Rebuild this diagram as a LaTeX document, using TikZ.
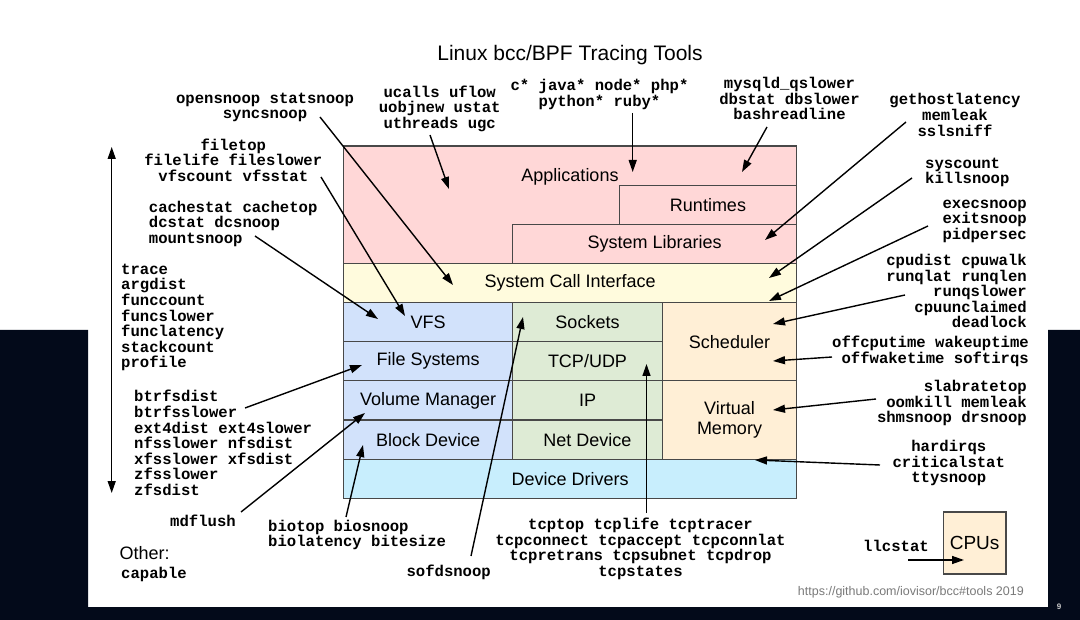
\documentclass[tikz,border=0pt]{standalone}
\usepackage{fontspec}
\setmainfont{Liberation Sans}
\setmonofont{Liberation Mono}
\usetikzlibrary{arrows.meta,positioning}
\definecolor{slide}{HTML}{030A1A}
\definecolor{edge}{HTML}{484848}
\definecolor{appred}{HTML}{FFD7D7}
\definecolor{sysyellow}{HTML}{FFFBDD}
\definecolor{fsblue}{HTML}{D2E2FB}
\definecolor{netgreen}{HTML}{DEEBD5}
\definecolor{cpupeach}{HTML}{FFEFD6}
\definecolor{devcyan}{HTML}{C8EEFD}
\definecolor{urlgray}{HTML}{7A7A7A}
\definecolor{pagegray}{HTML}{C8C8C8}

\begin{document}
\begin{tikzpicture}[x=1pt, y=-1pt,
    layer/.style={draw=edge, line width=1.2pt, outer sep=0pt, inner sep=0pt, minimum height=39.15pt, align=center, font=\fontsize{18}{20.5}\selectfont},
    tools/.style={inner sep=0pt, font=\ttfamily\bfseries\fontsize{15.6}{15.6}\selectfont},
    tool/.style={-{Triangle[length=12pt,width=8pt]}, line width=1.4pt}
]
\useasboundingbox (0,0) rectangle (1080,620);
\fill[white] (0,0) rectangle (1080,620);
\fill[slide] (0,330) -- (88,330) -- (88,607) -- (1048,607) -- (1048,330) -- (1080,330) -- (1080,620) -- (0,620) -- cycle;

\node[font=\fontsize{21}{24}\selectfont] (title) at (570,55) {Linux bcc/BPF Tracing Tools};

% kernel stack
\node[layer, fill=fsblue, minimum width=169.2pt, anchor=north west] (vfs) at (343.5,302.6) {VFS};
\node[layer, fill=fsblue, minimum width=169.2pt, below=0pt of vfs] (filesys) {File Systems};
\node[layer, fill=fsblue, minimum width=169.2pt, below=0pt of filesys] (volmgr) {Volume Manager};
\node[layer, fill=fsblue, minimum width=169.2pt, below=0pt of volmgr] (blockdev) {Block Device};
\node[layer, fill=netgreen, minimum width=149.6pt, right=0pt of vfs] (sockets) {Sockets};
\node[layer, fill=netgreen, minimum width=149.6pt, below=0pt of sockets] (tcpudp) {TCP/UDP};
\node[layer, fill=netgreen, minimum width=149.6pt, below=0pt of tcpudp] (ip) {IP};
\node[layer, fill=netgreen, minimum width=149.6pt, below=0pt of ip] (netdev) {Net Device};
\node[layer, fill=cpupeach, minimum width=134.4pt, minimum height=78.3pt, anchor=north west] (sched) at (sockets.north east) {Scheduler};
\node[layer, fill=cpupeach, minimum width=134.4pt, minimum height=78.3pt, below=0pt of sched] (vmem) {Virtual\\Memory};
\node[layer, fill=devcyan, minimum width=453.2pt, anchor=north west] (drivers) at (blockdev.south west) {Device Drivers};
\node[layer, fill=sysyellow, minimum width=453.2pt, anchor=south west] (sci) at (vfs.north west) {System Call Interface};
\node[layer, fill=appred, minimum width=453.2pt, minimum height=117.45pt, anchor=south west] (apps) at (sci.north west) {};
\node[font=\fontsize{18}{20}\selectfont] (apps-t) at (570,177) {Applications};
\node[layer, fill=appred, minimum width=284pt, anchor=south east] (syslib) at (sci.north east) {System Libraries};
\node[layer, fill=appred, minimum width=177.4pt, anchor=south east] (runtimes) at (syslib.north east) {Runtimes};
\node[layer, fill=cpupeach, minimum width=62.7pt, minimum height=62pt, font=\fontsize{19}{21}\selectfont, anchor=north west] (cpus) at (943.3,512) {CPUs};

% tool lists
\node[tools, align=center] (opensnoop) at (265,107.5) {opensnoop statsnoop\\syncsnoop};
\node[tools, align=center] (filetop) at (233.3,160.1) {filetop\\filelife fileslower\\vfscount vfsstat};
\node[tools, align=left, anchor=west] (cachestat) at (148.7,223.8) {cachestat cachetop\\dcstat dcsnoop\\mountsnoop};
\node[tools, align=left, anchor=west] (trace) at (121,317.5) {trace\\argdist\\funccount\\funcslower\\funclatency\\stackcount\\profile};
\node[tools, align=left, anchor=west] (btrfs) at (134,443) {btrfsdist\\btrfsslower\\ext4dist ext4slower\\nfsslower nfsdist\\xfsslower xfsdist\\zfsslower\\zfsdist};
\node[tools] (mdflush) at (203,520.7) {mdflush};
\node[anchor=west, inner sep=0pt, font=\fontsize{18}{20}\selectfont] (other) at (119.3,553.3) {Other:};
\node[tools, anchor=west] (capable) at (121,574) {capable};
\node[tools, align=left, anchor=west] (biotop) at (268,535) {biotop biosnoop\\biolatency bitesize};
\node[tools] (sofdsnoop) at (448.7,572.3) {sofdsnoop};
\node[tools, align=center] (tcp) at (640.5,548.7) {tcptop tcplife tcptracer\\tcpconnect tcpaccept tcpconnlat\\tcpretrans tcpsubnet tcpdrop\\tcpstates};
\node[tools, align=center] (ucalls) at (439.7,108.7) {ucalls uflow\\uobjnew ustat\\uthreads ugc};
\node[tools, align=center] (langs) at (599.5,94.5) {c* java* node* php*\\python* ruby*};
\node[tools, align=center] (mysqld) at (789.5,98.8) {mysqld\_qslower\\dbstat dbslower\\bashreadline};
\node[tools, align=center] (gethost) at (955,115) {gethostlatency\\memleak\\sslsniff};
\node[tools, align=left, anchor=west] (syscount) at (925,172.5) {syscount\\killsnoop};
\node[tools, align=right, anchor=east] (execsnoop) at (1027,221.4) {execsnoop\\exitsnoop\\pidpersec};
\node[tools, align=right, anchor=east] (cpudist) at (1027,291.2) {cpudist cpuwalk\\runqlat runqlen\\runqslower\\cpuunclaimed\\deadlock};
\node[tools, align=right, anchor=east] (offcpu) at (1029,351.2) {offcputime wakeuptime\\offwaketime softirqs};
\node[tools, align=right, anchor=east] (slabrate) at (1027,403.2) {slabratetop\\oomkill memleak\\shmsnoop drsnoop};
\node[tools, align=center] (hardirqs) at (948.8,463.1) {hardirqs\\criticalstat\\ttysnoop};
\node[tools] (llcstat) at (896,545.7) {llcstat};
\node[anchor=east, inner sep=0pt, text=urlgray, font=\fontsize{12.5}{14}\selectfont] (url) at (1024,592.7) {https://github.com/iovisor/bcc\#tools 2019};
\node[text=pagegray, font=\bfseries\fontsize{8}{9}\selectfont] (pageno) at (1059,607) {9};

% arrow ends
\coordinate (opensnoop-o) at (320,117);   \coordinate (sci-a) at (453,285);
\coordinate (filetop-o) at (321,177);     \coordinate (vfs-a) at (405,316);
\coordinate (cachestat-o) at (255,236);   \coordinate (vfs-b) at (378,319);
\coordinate (btrfs-o) at (245,408);       \coordinate (filesys-a) at (362,365);
\coordinate (mdflush-o) at (241,512);     \coordinate (volmgr-a) at (365,413);
\coordinate (biotop-o) at (346,517);      \coordinate (blockdev-a) at (363,445);
\coordinate (sofdsnoop-o) at (471,556);   \coordinate (sockets-a) at (523,317);
\coordinate (tcp-o) at (646.5,513);       \coordinate (tcpudp-a) at (646.5,364);
\coordinate (ucalls-o) at (430,135);      \coordinate (apps-a) at (449,189);
\coordinate (langs-o) at (632.7,113);     \coordinate (runtimes-a) at (632.7,172);
\coordinate (mysqld-o) at (767,127);      \coordinate (apps-b) at (742,172);
\coordinate (gethost-o) at (906,122);     \coordinate (syslib-a) at (765,240);
\coordinate (syscount-o) at (912,178);    \coordinate (sci-b) at (769,278);
\coordinate (execsnoop-o) at (928,226);   \coordinate (sci-c) at (769,301);
\coordinate (cpudist-o) at (905,295);     \coordinate (sched-a) at (773,324);
\coordinate (offcpu-o) at (832,357);      \coordinate (sched-b) at (773,361);
\coordinate (slabrate-o) at (876,399);    \coordinate (vmem-a) at (773,410);
\coordinate (hardirqs-o) at (880,465);    \coordinate (drivers-a) at (755,460);
\coordinate (llcstat-o) at (908,560);     \coordinate (cpus-a) at (964,560);
\coordinate (stack-top) at (111.7,147);   \coordinate (stack-bot) at (111.7,493);

\draw[tool] (opensnoop-o) -- (sci-a);
\draw[tool] (filetop-o) -- (vfs-a);
\draw[tool] (cachestat-o) -- (vfs-b);
\draw[tool] (btrfs-o) -- (filesys-a);
\draw[tool] (mdflush-o) -- (volmgr-a);
\draw[tool] (biotop-o) -- (blockdev-a);
\draw[tool] (sofdsnoop-o) -- (sockets-a);
\draw[tool] (tcp-o) -- (tcpudp-a);
\draw[tool] (ucalls-o) -- (apps-a);
\draw[tool] (langs-o) -- (runtimes-a);
\draw[tool] (mysqld-o) -- (apps-b);
\draw[tool] (gethost-o) -- (syslib-a);
\draw[tool] (syscount-o) -- (sci-b);
\draw[tool] (execsnoop-o) -- (sci-c);
\draw[tool] (cpudist-o) -- (sched-a);
\draw[tool] (offcpu-o) -- (sched-b);
\draw[tool] (slabrate-o) -- (vmem-a);
\draw[tool] (hardirqs-o) -- (drivers-a);
\draw[tool] (llcstat-o) -- (cpus-a);
\draw[tool, {Triangle[length=12pt,width=8pt]}-{Triangle[length=12pt,width=8pt]}] (stack-top) -- (stack-bot);
\end{tikzpicture}
\end{document}
